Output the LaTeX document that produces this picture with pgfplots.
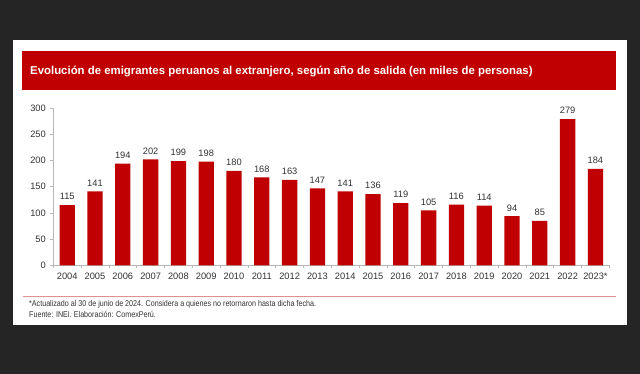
\documentclass[border=0pt]{standalone}
\usepackage{pgfplots}
\pgfplotsset{compat=1.18}
\usepackage{fontspec}
\setmainfont{Liberation Sans}
\newfontfamily\narrow[FakeStretch=0.85]{Liberation Sans}
\definecolor{bg}{HTML}{252525}
\definecolor{barred}{HTML}{C00000}
\definecolor{axgray}{HTML}{B8B8B8}
\definecolor{txt}{HTML}{333333}
\definecolor{sep}{HTML}{E09090}
\begin{document}
\begin{tikzpicture}[x=1pt,y=1pt]
\fill[bg] (0,0) rectangle (640,374);
\fill[white] (12.7,374-40) rectangle (626.7,374-325.5);
\fill[barred] (22,374-51.5) rectangle (615.5,374-90);
\node[anchor=west,text=white,font=\bfseries\fontsize{11.4}{13}\selectfont,inner sep=0pt] at (30,374-72)
  {Evolución de emigrantes peruanos al extranjero, según año de salida (en miles de personas)};
\begin{axis}[
  at={(53.3pt,108.5pt)}, anchor=south west,
  scale only axis, width=556pt, height=157.5pt,
  xmin=-0.5, xmax=19.5, ymin=0, ymax=300,
  axis x line=bottom, axis y line=left,
  axis line style={axgray, line width=0.6pt, -},
  ytick={0,50,...,300},
  xtick={0,...,19},
  xticklabels={2004,2005,2006,2007,2008,2009,2010,2011,2012,2013,2014,2015,2016,2017,2018,2019,2020,2021,2022,2023*},
  minor xtick={-0.5,0.5,...,19.5},
  major x tick style={draw=none},
  minor x tick style={axgray, line width=0.6pt},
  y tick style={axgray, line width=0.6pt},
  tick align=outside,
  major tick length=3pt, minor tick length=3pt,
  ticklabel style={font=\fontsize{9.3}{10}\selectfont, text=txt},
  /pgf/number format/assume math mode=true,
  yticklabel style={xshift=-1pt},
  xticklabel style={yshift=-1pt},
  ybar, bar width=15.3pt,
  nodes near coords,
  every node near coord/.append style={font=\fontsize{9.3}{10}\selectfont, text=txt, yshift=1.5pt},
  clip=false,
]
\addplot[fill=barred, draw=none] coordinates {
(0,115) (1,141) (2,194) (3,202) (4,199) (5,198) (6,180) (7,168) (8,163) (9,147)
(10,141) (11,136) (12,119) (13,105) (14,116) (15,114) (16,94) (17,85) (18,279) (19,184)};
\end{axis}
\draw[sep, line width=0.7pt] (23,374-296) -- (616,374-296);
\node[anchor=west,text=txt,font=\narrow\fontsize{8.4}{10}\selectfont,inner sep=0pt] at (29,374-304.5)
  {*Actualizado al 30 de junio de 2024. Considera a quienes no retornaron hasta dicha fecha.};
\node[anchor=west,text=txt,font=\narrow\fontsize{8.4}{10}\selectfont,inner sep=0pt] at (29,374-314.5)
  {Fuente: INEI. Elaboración: ComexPerú.};
\end{tikzpicture}
\end{document}
